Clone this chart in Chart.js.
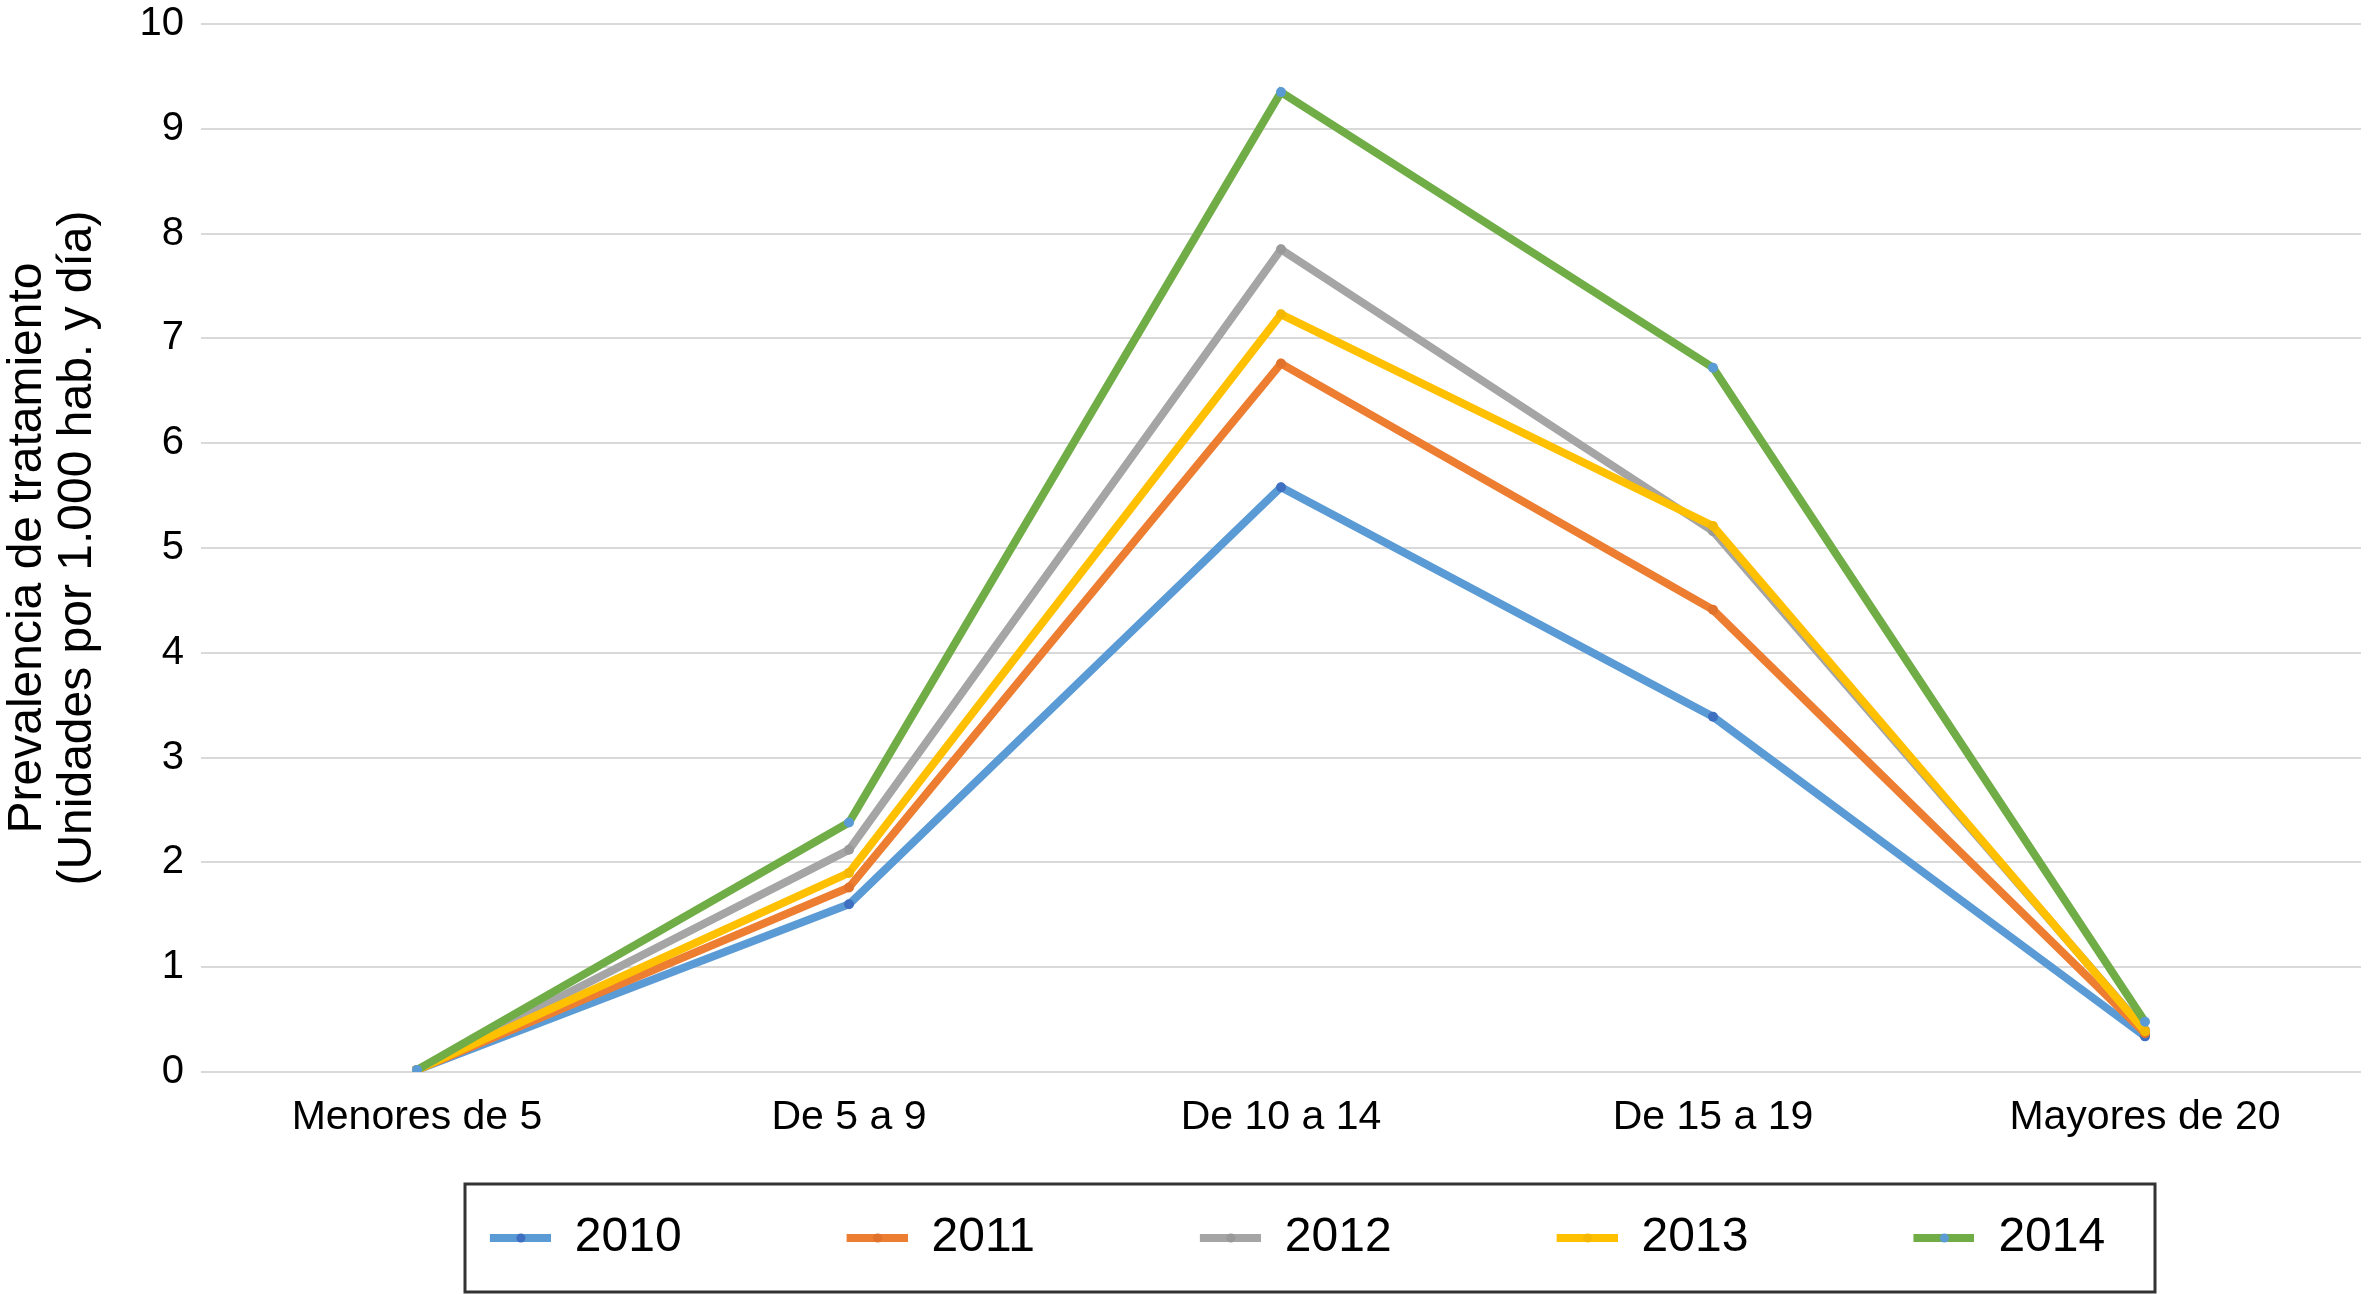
<!DOCTYPE html>
<html>
<head>
<meta charset="utf-8">
<script src="https://cdn.jsdelivr.net/npm/chart.js@4.4.1/dist/chart.umd.min.js"></script>
<style>
  html, body { margin: 0; padding: 0; background: #fff; }
  #wrap { width: 2370px; height: 1294px; }
</style>
</head>
<body>
<div id="wrap"><canvas id="prevChart" width="2370" height="1294"></canvas></div>
<script>
// data
const groups = ["Menores de 5", "De 5 a 9", "De 10 a 14", "De 15 a 19", "Mayores de 20"];
const years = ["2010", "2011", "2012", "2013", "2014"];
const v2010 = [0.02, 1.6, 5.58, 3.39, 0.34];
const v2011 = [0.02, 1.76, 6.76, 4.41, 0.37];
const v2012 = [0.02, 2.12, 7.85, 5.16, 0.4];
const v2013 = [0.02, 1.9, 7.23, 5.21, 0.39];
const v2014 = [0.02, 2.38, 9.35, 6.72, 0.48];
const yTicks = [0, 1, 2, 3, 4, 5, 6, 7, 8, 9, 10];

const lineColors = ["#5b9bd5", "#ed7d31", "#a5a5a5", "#ffc000", "#70ad47"];
const dotColors = ["#3f6fc0", "#e0722b", "#999999", "#f5b800", "#5b9bd5"];
const series = [v2010, v2011, v2012, v2013, v2014];

const FONT = "'Liberation Sans', Arial, Helvetica, sans-serif";

// legend icon: empty space on the left (acts as item spacing), then line + dot
const ICON_W = 195;
function legendIcon(line, dot) {
  const c = document.createElement("canvas");
  c.width = ICON_W;
  c.height = 14;
  const g = c.getContext("2d");
  g.strokeStyle = line;
  g.lineWidth = 8;
  g.beginPath();
  g.moveTo(ICON_W - 61, 7);
  g.lineTo(ICON_W, 7);
  g.stroke();
  g.fillStyle = dot;
  g.beginPath();
  g.arc(ICON_W - 30, 7, 4.5, 0, Math.PI * 2);
  g.fill();
  return c;
}
const icons = lineColors.map((c, i) => legendIcon(c, dotColors[i]));

// nudge the legend right and draw the frame round it
const legendFrame = {
  id: "legendFrame",
  afterLayout(chart) {
    chart.legend.left += 50;
    chart.legend.right += 50;
  },
  afterDraw(chart) {
    const ctx = chart.ctx;
    ctx.save();
    ctx.strokeStyle = "#333";
    ctx.lineWidth = 3;
    ctx.strokeRect(465, 1184, 1690, 108);
    ctx.restore();
  },
};

new Chart(document.getElementById("prevChart"), {
  type: "line",
  data: {
    labels: groups,
    datasets: years.map((y, i) => ({
      label: y,
      data: series[i],
      borderColor: lineColors[i],
      backgroundColor: lineColors[i],
      borderWidth: 8,
      pointRadius: 5,
      pointBackgroundColor: dotColors[i],
      pointBorderWidth: 0,
      tension: 0,
      order: 5 - i,
    })),
  },
  options: {
    responsive: false,
    animation: false,
    layout: { padding: { top: 0, right: 9, left: 0, bottom: 22 } },
    plugins: {
      tooltip: { enabled: false },
      legend: {
        position: "bottom",
        labels: {
          color: "#000",
          font: { family: FONT, size: 48 },
          usePointStyle: true,
          pointStyleWidth: ICON_W,
          boxHeight: 14,
          padding: 31,
          generateLabels: (chart) =>
            chart.data.datasets.map((ds, i) => ({
              text: ds.label,
              pointStyle: icons[i],
              fillStyle: ds.borderColor,
              strokeStyle: "transparent",
              lineWidth: 0,
              hidden: false,
              datasetIndex: i,
              fontColor: "#000",
            })),
        },
      },
    },
    scales: {
      x: {
        offset: true,
        grid: { display: false },
        border: { display: false },
        ticks: {
          color: "#000",
          font: { family: FONT, size: 41 },
          padding: 13,
          maxRotation: 0,
          autoSkip: false,
        },
        afterFit: (s) => { s.height = 111; },
      },
      y: {
        min: 0,
        max: 10,
        afterBuildTicks: (s) => { s.ticks = yTicks.map((v) => ({ value: v })); },
        grid: { color: "#d9d9d9", lineWidth: 2, drawTicks: false },
        border: { display: false },
        ticks: {
          color: "#000",
          font: { family: FONT, size: 40 },
          padding: 17,
        },
        title: {
          display: true,
          text: ["Prevalencia de tratamiento", "(Unidades por 1.000 hab. y día)"],
          color: "#000",
          font: { family: FONT, size: 48, lineHeight: 1.04 },
          padding: { top: 3, bottom: 0 },
        },
        afterFit: (s) => {
          s.width = 201;
          s.paddingTop = 24;
        },
      },
    },
  },
  plugins: [legendFrame],
});
</script>
</body>
</html>
